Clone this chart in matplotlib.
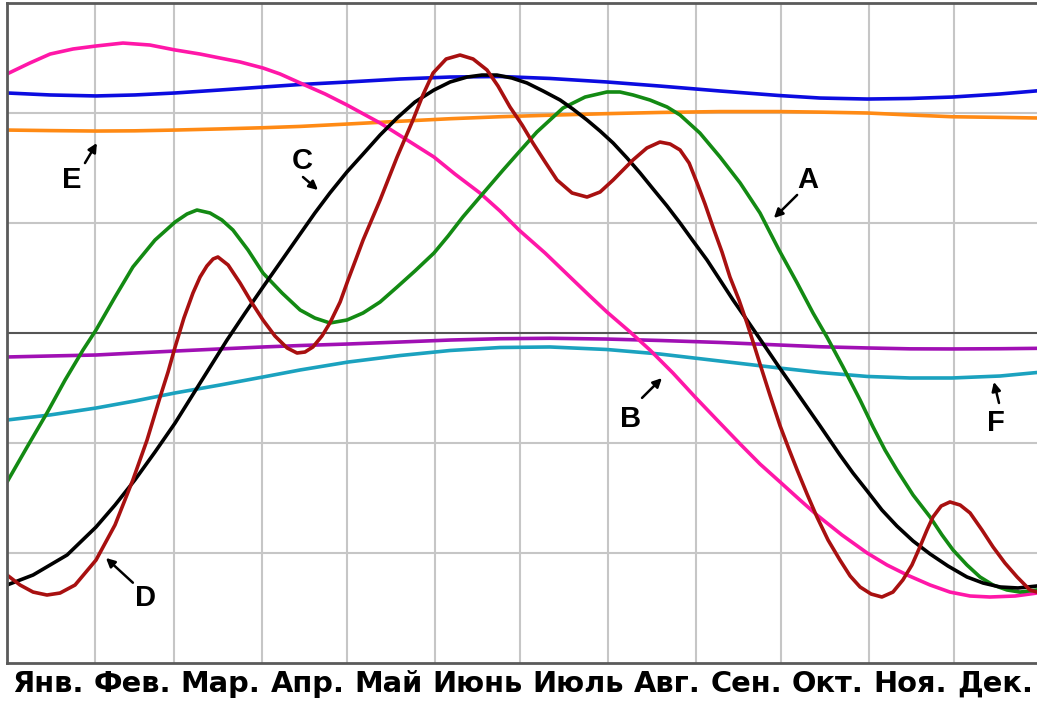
import numpy as np
import matplotlib
matplotlib.use('Agg')
import matplotlib.pyplot as plt

plt.rcParams['font.family'] = ['Liberation Sans', 'DejaVu Sans']

# month boundaries (days) and labels
month_edges = [0, 31, 59, 90, 120, 151, 181, 212, 243, 273, 304, 334, 365]
month_labels = ["Янв.", "Фев.", "Мар.", "Апр.", "Май", "Июнь",
                "Июль", "Авг.", "Сен.", "Окт.", "Ноя.", "Дек."]

# A (green)
a_x = [0, 7.1, 14.1, 20.5, 26.8, 31.4, 38.1, 44.4, 52.2, 59.3,
       63.5, 67.0, 71.6, 75.8, 79.7, 85.0, 90.3, 97.0, 103.4, 108.6,
       113.9, 119.9, 125.6, 131.6, 137.6, 143.9, 150.6, 155.6, 160.8, 166.8,
       175.0, 180.6, 186.9, 191.5, 196.1, 203.9, 211.6, 216.2, 220.8, 226.8,
       232.8, 237.4, 244.4, 251.5, 258.6, 265.6, 272.3, 278.7, 284.3, 289.2,
       294.9, 300.9, 305.5, 309.7, 313.9, 319.6, 325.6, 329.8, 333.7, 338.6,
       343.2, 347.8, 352.7, 357.3, 363.3, 365]
a_y = [-1.355, -1.036, -0.727, -0.427, -0.155, 0.027, 0.327, 0.6, 0.845, 1.009,
       1.082, 1.118, 1.091, 1.027, 0.936, 0.755, 0.545, 0.364, 0.209, 0.136,
       0.091, 0.118, 0.182, 0.282, 0.418, 0.564, 0.727, 0.882, 1.055, 1.236,
       1.482, 1.645, 1.827, 1.936, 2.045, 2.145, 2.191, 2.191, 2.164, 2.118,
       2.055, 1.982, 1.818, 1.6, 1.364, 1.091, 0.755, 0.455, 0.182, -0.036,
       -0.309, -0.609, -0.855, -1.064, -1.245, -1.473, -1.673, -1.836, -1.973, -2.109,
       -2.218, -2.291, -2.336, -2.355, -2.336, -2.33]

# B (pink)
b_x = [0, 8.1, 15.2, 23.3, 31.4, 40.9, 50.4, 59.3, 68.1, 75.1,
       82.2, 90.3, 96.3, 103.4, 112.2, 119.9, 131.6, 141.1, 150.6, 158.0,
       166.8, 173.9, 180.6, 189.8, 198.6, 205.6, 211.6, 219.8, 226.8, 234.9,
       242.7, 250.8, 258.6, 265.6, 272.7, 279.7, 285.7, 294.5, 303.4, 310.4,
       317.5, 325.6, 332.6, 339.7, 346.7, 355.6, 363.3, 365]
b_y = [2.355, 2.455, 2.536, 2.582, 2.609, 2.636, 2.618, 2.573, 2.536, 2.5,
       2.464, 2.409, 2.355, 2.273, 2.173, 2.073, 1.909, 1.755, 1.6, 1.445,
       1.273, 1.109, 0.936, 0.727, 0.509, 0.336, 0.191, 0.009, -0.155, -0.364,
       -0.582, -0.8, -1.009, -1.191, -1.355, -1.518, -1.655, -1.836, -2.0, -2.109,
       -2.2, -2.291, -2.355, -2.391, -2.4, -2.391, -2.364, -2.36]

# C (black)
c_x = [0, 9.2, 21.2, 31.4, 38.1, 45.1, 52.2, 59.3, 68.1, 77.6,
       84.0, 90.3, 97.0, 103.4, 108.6, 113.9, 119.9, 125.6, 131.6, 137.6,
       143.9, 150.6, 156.3, 162.3, 167.5, 172.8, 178.1, 183.4, 189.1, 195.1,
       199.6, 204.6, 209.2, 213.8, 218.7, 223.3, 227.9, 232.8, 237.4, 242.0,
       246.9, 251.5, 256.1, 261.0, 265.6, 272.3, 279.7, 286.8, 293.8, 298.4,
       303.4, 308.6, 313.9, 319.6, 325.6, 331.9, 338.6, 344.3, 350.3, 356.6,
       363.3, 365]
c_y = [-2.291, -2.2, -2.018, -1.764, -1.564, -1.336, -1.082, -0.818, -0.455, -0.064,
       0.182, 0.418, 0.664, 0.9, 1.091, 1.273, 1.464, 1.627, 1.8, 1.955,
       2.1, 2.209, 2.282, 2.327, 2.345, 2.345, 2.318, 2.273, 2.2, 2.118,
       2.036, 1.936, 1.836, 1.727, 1.591, 1.455, 1.309, 1.155, 1.0, 0.836,
       0.664, 0.482, 0.3, 0.118, -0.055, -0.309, -0.582, -0.845, -1.109, -1.273,
       -1.436, -1.609, -1.755, -1.891, -2.009, -2.118, -2.218, -2.273, -2.309, -2.318,
       -2.3, -2.29]

# D (dark red)
d_x = [0, 4.6, 9.2, 14.1, 18.7, 24.0, 31.4, 38.1, 44.4, 49.4,
       54.0, 56.8, 59.3, 62.4, 65.6, 68.1, 70.5, 72.7, 74.4, 78.0,
       82.2, 86.4, 90.3, 94.5, 98.8, 102.3, 105.1, 107.9, 111.1, 113.9,
       117.5, 120.3, 123.1, 125.6, 131.6, 137.6, 143.2, 146.7, 150.3, 154.9,
       159.8, 164.4, 169.3, 173.2, 177.4, 181.7, 185.5, 189.8, 194.0, 199.3,
       204.6, 209.2, 213.8, 217.3, 220.8, 225.7, 230.3, 233.9, 237.4, 240.6,
       243.4, 246.2, 249.0, 252.2, 255.0, 258.2, 261.0, 263.5, 265.6, 269.1,
       272.7, 275.8, 278.7, 282.2, 285.7, 289.6, 293.8, 297.4, 300.9, 304.8,
       308.6, 312.5, 316.0, 319.2, 322.0, 324.5, 326.6, 329.5, 332.6, 336.2,
       339.7, 343.9, 347.8, 352.0, 356.3, 360.8, 363.3, 365]
d_y = [-2.2, -2.291, -2.355, -2.382, -2.364, -2.291, -2.064, -1.745, -1.336, -0.973,
       -0.582, -0.355, -0.127, 0.136, 0.364, 0.509, 0.609, 0.673, 0.691, 0.618,
       0.455, 0.273, 0.118, -0.027, -0.136, -0.182, -0.173, -0.127, -0.027, 0.091,
       0.282, 0.482, 0.673, 0.845, 1.209, 1.6, 1.936, 2.164, 2.364, 2.491,
       2.527, 2.491, 2.391, 2.245, 2.055, 1.891, 1.727, 1.555, 1.391, 1.273,
       1.236, 1.282, 1.391, 1.482, 1.573, 1.682, 1.736, 1.718, 1.664, 1.545,
       1.364, 1.173, 0.964, 0.736, 0.509, 0.3, 0.091, -0.109, -0.282, -0.564,
       -0.845, -1.055, -1.245, -1.464, -1.673, -1.882, -2.064, -2.209, -2.309, -2.373,
       -2.4, -2.355, -2.245, -2.109, -1.945, -1.791, -1.673, -1.573, -1.536, -1.564,
       -1.636, -1.791, -1.945, -2.091, -2.218, -2.336, -2.355, -2.36]

# flat curves share one set of days
flat_x = [0, 15.2, 31.4, 45.1, 59.3, 75.1, 90.3, 103.4, 120.3, 138.6, 156.3, 173.9,
          191.5, 211.6, 230.3, 251.5, 272.3, 286.8, 303.4, 318.5, 333.3, 350.3, 365]
# E (orange)
e_y = [1.845, 1.84, 1.836, 1.838, 1.845, 1.855, 1.866, 1.878, 1.9, 1.925, 1.948, 1.966,
       1.98, 1.994, 2.005, 2.013, 2.013, 2.008, 2.0, 1.982, 1.966, 1.96, 1.954]
# F (cyan)
f_y = [-0.791, -0.745, -0.682, -0.618, -0.545, -0.473, -0.4, -0.336, -0.264, -0.205,
       -0.159, -0.132, -0.127, -0.15, -0.191, -0.255, -0.318, -0.359, -0.395, -0.409,
       -0.409, -0.391, -0.355]
# blue (top)
blue_y = [2.182, 2.164, 2.155, 2.164, 2.182, 2.209, 2.236, 2.259, 2.282, 2.309, 2.327,
          2.332, 2.314, 2.282, 2.245, 2.2, 2.159, 2.136, 2.127, 2.132, 2.145, 2.173, 2.205]
# purple (near zero)
purple_y = [-0.218, -0.209, -0.2, -0.182, -0.164, -0.145, -0.127, -0.114, -0.1, -0.082,
            -0.064, -0.052, -0.048, -0.055, -0.068, -0.086, -0.109, -0.125, -0.136,
            -0.144, -0.145, -0.143, -0.139]

fig = plt.figure(figsize=(10.37, 7.01), dpi=100)
ax = fig.add_axes([7 / 1037, 38 / 701, 1034.8 / 1037, 660 / 701])

# grid
for m in month_edges[1:-1]:
    ax.axvline(m, color='#c6c6c6', lw=1.5, zorder=0)
for v in [-2, -1, 1, 2]:
    ax.axhline(v, color='#c6c6c6', lw=1.5, zorder=0)
ax.axhline(0, color='#555555', lw=1.5, zorder=1)

lw = 2.6
style = dict(lw=lw, solid_joinstyle='round', solid_capstyle='round')
ax.plot(flat_x, blue_y, color='#0c0ce0', **style)
ax.plot(flat_x, e_y, color='#ff8a14', **style)
ax.plot(flat_x, purple_y, color='#a010b4', **style)
ax.plot(flat_x, f_y, color='#1ba2bf', **style)
ax.plot(b_x, b_y, color='#ff17a8', **style)
ax.plot(a_x, a_y, color='#138a13', **style)
ax.plot(c_x, c_y, color='#000000', **style)
ax.plot(d_x, d_y, color='#a81010', **style)

# letter labels with small arrows
arrow = dict(arrowstyle='-|>', lw=1.8, color='black', mutation_scale=13,
             shrinkA=0, shrinkB=0)
lab = dict(fontsize=21, fontweight='bold', ha='center', va='center')
ax.annotate('', xy=(31.7, 1.727), xytext=(27.5, 1.545), arrowprops=arrow)
ax.text(22.9, 1.39, 'E', **lab)
ax.annotate('', xy=(109.7, 1.3), xytext=(104.4, 1.418), arrowprops=arrow)
ax.text(104.1, 1.564, 'C', **lab)
ax.annotate('', xy=(270.5, 1.045), xytext=(278.7, 1.255), arrowprops=arrow)
ax.text(282.5, 1.39, 'A', **lab)
ax.annotate('', xy=(231.0, -0.41), xytext=(224.0, -0.59), arrowprops=arrow)
ax.text(220.1, -0.782, 'B', **lab)
ax.annotate('', xy=(348.1, -0.445), xytext=(349.9, -0.636), arrowprops=arrow)
ax.text(348.9, -0.818, 'F', **lab)
ax.annotate('', xy=(34.9, -2.045), xytext=(44.4, -2.27), arrowprops=arrow)
ax.text(48.7, -2.41, 'D', **lab)

ax.set_xlim(0, 365)
ax.set_ylim(-3, 3)
ax.set_xticks([])
ax.set_yticks([])
for s in ax.spines.values():
    s.set_color('#5a5a5a')
    s.set_linewidth(2)

# month names: one word each, set in a row under the plot like a sentence
W, H = 1037, 701
fs = 20.8
renderer = fig.canvas.get_renderer()
words = [fig.text(0, 1 - 692 / H, m, fontsize=fs, fontweight='bold',
                  family=['DejaVu Sans'], ha='left', va='baseline')
         for m in month_labels]
widths = [t.get_window_extent(renderer).width for t in words]
gap = (1021 - sum(widths)) / (len(words) - 1)
x = 12
for t, w in zip(words, widths):
    t.set_x(x / W)
    x += w + gap

fig.savefig('out.png', dpi=100)
